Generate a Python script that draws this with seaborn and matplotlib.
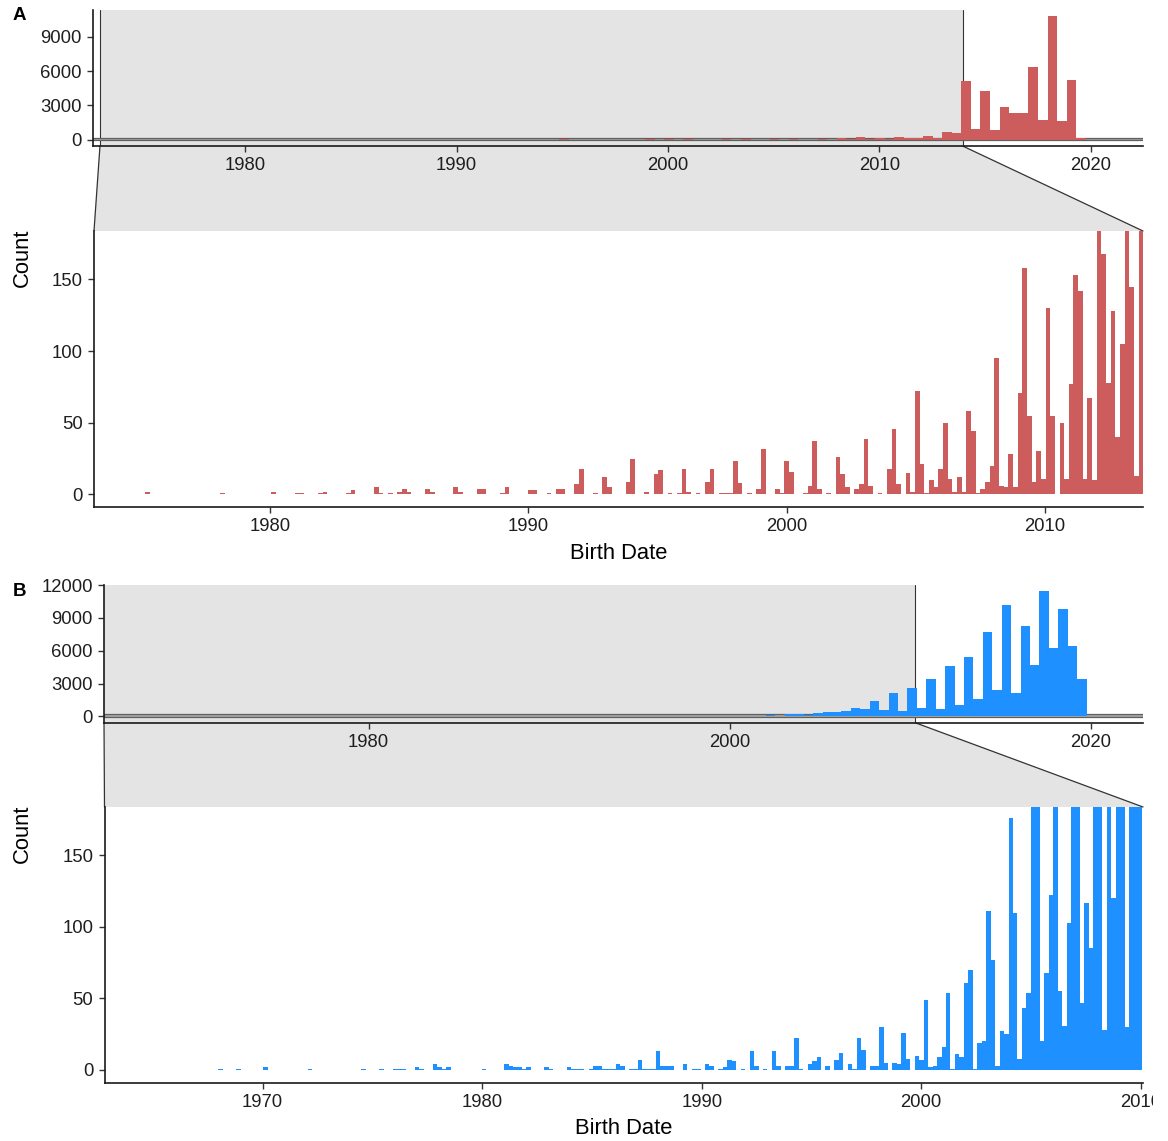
import numpy as np
import pandas as pd
import seaborn as sns
import matplotlib.pyplot as plt
from matplotlib.patches import Polygon
from matplotlib.lines import Line2D
from matplotlib.transforms import Bbox, TransformedBbox

# ---- data: histogram counts ----
# panel A overview: 99 bins, first bin starts 1974.91, width 0.453 yr
a_over_start, a_over_width = 1974.91, 0.453
a_over_counts = [
    2, 0, 0, 0, 0, 0, 1, 0, 0, 0,
    0, 2, 0, 2, 0, 1, 2, 1, 3, 0,
    6, 4, 6, 0, 6, 0, 5, 2, 4, 4,
    1, 5, 0, 6, 1, 4, 4, 25, 1, 12,
    5, 9, 25, 2, 31, 2, 20, 1, 27, 2,
    24, 8, 5, 32, 5, 39, 1, 43, 4, 27,
    23, 46, 7, 64, 7, 17, 93, 17, 68, 13,
    14, 102, 14, 121, 38, 230, 64, 160, 105, 241,
    160, 150, 317, 200, 720, 577, 5107, 952, 4240, 894,
    2827, 2308, 2308, 6318, 1760, 10790, 1644, 5193, 144,
]
# panel A zoom: 215 bins from 1975.0, width 0.1805 yr
a_zoom_start, a_zoom_width = 1975.0, 0.1805
a_zoom_counts = [
    0, 2, 0, 0, 0, 0, 0, 0, 0, 0,
    0, 0, 0, 0, 0, 0, 0, 1, 0, 0,
    0, 0, 0, 0, 0, 0, 0, 0, 2, 0,
    0, 0, 0, 1, 1, 0, 0, 0, 1, 2,
    0, 0, 0, 0, 1, 3, 0, 0, 0, 0,
    5, 1, 0, 1, 0, 2, 4, 2, 0, 0,
    0, 4, 2, 0, 0, 0, 0, 5, 2, 0,
    0, 0, 4, 4, 0, 0, 0, 1, 5, 0,
    0, 0, 0, 3, 3, 0, 0, 1, 0, 4,
    4, 0, 0, 7, 18, 0, 0, 1, 0, 12,
    5, 0, 0, 0, 9, 25, 0, 0, 2, 0,
    14, 17, 0, 1, 0, 1, 18, 2, 0, 1,
    0, 9, 18, 0, 1, 1, 1, 23, 8, 0,
    1, 0, 4, 32, 0, 0, 4, 1, 23, 16,
    0, 0, 1, 6, 37, 4, 0, 1, 0, 26,
    14, 5, 0, 4, 7, 39, 6, 0, 1, 0,
    18, 46, 7, 0, 15, 2, 72, 21, 1, 10,
    5, 18, 50, 11, 2, 12, 2, 58, 44, 1,
    4, 9, 20, 95, 6, 5, 28, 5, 71, 158,
    55, 9, 30, 11, 130, 55, 0, 50, 11, 77,
    153, 142, 11, 67, 10, 260, 168, 78, 128, 40,
    105, 300, 145, 13, 420,
]
# panel B overview: 99 bins from 1968.07, width 0.5222 yr
b_over_start, b_over_width = 1968.07, 0.5222
b_over_counts = [
    1, 1, 0, 2, 0, 0, 0, 1, 0, 0,
    0, 0, 1, 0, 1, 2, 1, 3, 4, 5,
    0, 0, 0, 1, 4, 5, 5, 0, 3, 0,
    3, 2, 4, 5, 5, 4, 8, 3, 19, 3,
    4, 2, 7, 1, 15, 1, 16, 1, 16, 6,
    23, 10, 9, 10, 16, 23, 17, 33, 10, 30,
    18, 58, 12, 71, 20, 132, 39, 191, 228, 118,
    357, 450, 420, 524, 771, 710, 1419, 586, 2098, 524,
    2591, 802, 3394, 710, 4628, 1018, 5399, 1604, 7713, 2375,
    10211, 2129, 8268, 4658, 11415, 6293, 9841, 6386, 3394,
]
# panel B zoom: 207 bins from 1967.99, width 0.2033 yr
b_zoom_start, b_zoom_width = 1967.99, 0.2033
b_zoom_counts = [
    1, 0, 0, 0, 1, 0, 0, 0, 0, 0,
    2, 0, 0, 0, 0, 0, 0, 0, 0, 0,
    1, 0, 0, 0, 0, 0, 0, 0, 0, 0,
    0, 0, 1, 0, 0, 0, 1, 0, 0, 1,
    1, 1, 0, 0, 2, 1, 0, 0, 4, 2,
    1, 2, 0, 0, 0, 0, 0, 0, 0, 1,
    0, 0, 0, 0, 4, 3, 2, 2, 1, 2,
    0, 0, 0, 2, 1, 0, 0, 0, 2, 1,
    1, 1, 0, 1, 3, 3, 1, 1, 1, 4,
    3, 0, 1, 1, 7, 1, 1, 1, 13, 3,
    3, 3, 0, 0, 4, 0, 1, 1, 0, 4,
    3, 0, 1, 2, 7, 6, 0, 1, 0, 13,
    3, 0, 1, 0, 13, 3, 0, 3, 3, 22,
    1, 0, 4, 6, 9, 0, 3, 0, 7, 12,
    0, 4, 1, 22, 14, 0, 3, 3, 30, 5,
    0, 5, 4, 26, 8, 0, 10, 7, 49, 2,
    3, 9, 16, 54, 1, 11, 9, 61, 70, 1,
    19, 20, 111, 77, 3, 27, 25, 176, 110, 8,
    43, 54, 260, 300, 20, 68, 122, 420, 55, 31,
    103, 520, 480, 47, 117, 85, 680, 650, 28, 900,
    120, 980, 1050, 30, 1200, 1250, 1300,
]

a_over_yticks = [0, 3000, 6000, 9000]
b_over_yticks = [0, 3000, 6000, 9000, 12000]
zoom_yticks = [0, 50, 100, 150]
a_over_xticks = [1980, 1990, 2000, 2010, 2020]
a_zoom_xticks = [1980, 1990, 2000, 2010]
b_over_xticks = [1980, 2000, 2020]
b_zoom_xticks = [1970, 1980, 1990, 2000, 2010]

RED = "#CD5C5C"
BLUE = "#1E90FF"
ZOOM_FILL = "#E4E4E4"
EDGE = "#333333"
TXT = "#1E1E1E"

sns.set_theme(style="ticks")
plt.rcParams["font.family"] = ["Liberation Sans", "DejaVu Sans"]

W, H = 1168, 1141
fig = plt.figure(figsize=(W / 100, H / 100), dpi=100)


def px_axes(left, top, right, bottom):
    return fig.add_axes([left / W, 1 - bottom / H, (right - left) / W, (bottom - top) / H])


def hist(ax, start, width, counts, color):
    edges = start + width * np.arange(len(counts) + 1)
    df = pd.DataFrame({"year": (edges[:-1] + edges[1:]) / 2,
                       "n": np.asarray(counts, dtype=float)})
    sns.histplot(data=df, x="year", weights="n", bins=edges.tolist(), color=color,
                 alpha=1, linewidth=0, ax=ax, zorder=3)


def style(ax, xticks, yticks):
    sns.despine(ax=ax)
    ax.grid(False)
    ax.set_facecolor("none")
    ax.set_xticks(xticks)
    ax.set_yticks(yticks)
    ax.set_xticklabels([str(t) for t in xticks])
    ax.set_yticklabels([str(t) for t in yticks])
    ax.tick_params(length=4.3, width=1.0, color="#333333", labelcolor=TXT,
                   labelsize=13.3, pad=3.8)
    for s in ("left", "bottom"):
        ax.spines[s].set_linewidth(1.2)
        ax.spines[s].set_color("#1A1A1A")
    ax.set_ylabel("")
    ax.set_xlabel("")


def panel(letter, over_box, zoom_box, over_data, zoom_data, color,
          over_xlim, over_ylim, band, zoom_xlim, zoom_ylim,
          over_xt, over_yt, zoom_xt, count_y):
    ov = px_axes(*over_box)
    zm = px_axes(*zoom_box)

    # overview with the zoomed area shaded
    ov.axvspan(band[0], band[1], color=ZOOM_FILL, lw=0, zorder=1)
    for bx in band:
        ov.axvline(bx, color=EDGE, lw=0.8, zorder=2)
    ov.axhspan(zoom_ylim[0], zoom_ylim[1], facecolor="#A8A8A8", edgecolor="#606060",
               lw=0.9, zorder=2)
    hist(ov, *over_data, color)
    ov.set_xlim(*over_xlim)
    ov.set_ylim(*over_ylim)
    style(ov, over_xt, over_yt)

    # zoomed panel
    hist(zm, *zoom_data, color)
    zm.set_xlim(*zoom_xlim)
    zm.set_ylim(*zoom_ylim)
    style(zm, zoom_xt, zoom_yticks)
    zm.set_xlabel("Birth Date", fontsize=15.8, color="black", labelpad=5.5)

    # connector between the two panels
    inv = fig.transFigure.inverted()
    xt = ov.get_xaxis_transform()
    x0 = max(band[0], over_xlim[0])
    tl = inv.transform(xt.transform((x0, 0)))
    tr = inv.transform(xt.transform((band[1], 0)))
    bl = inv.transform(zm.transAxes.transform((0, 1)))
    br = inv.transform(zm.transAxes.transform((1, 1)))
    fig.add_artist(Polygon([tl, tr, br, bl], closed=True, transform=fig.transFigure,
                           facecolor=ZOOM_FILL, edgecolor="none", zorder=-1))
    for a, b in ((tl, bl), (tr, br)):
        fig.add_artist(Line2D([a[0], b[0]], [a[1], b[1]], transform=fig.transFigure,
                              color=EDGE, lw=0.9, zorder=-0.5))

    fig.text(22 / W, 1 - count_y / H, "Count", rotation=90, ha="center", va="center",
             fontsize=15.8, color="black")
    fig.text(19 / W, 1 - (over_box[1] + 6) / H, letter, ha="center", va="center",
             fontsize=13.5, fontweight="bold", color="black")
    return ov, zm


ovA, zmA = panel("A", (93, 10, 1143, 146), (94, 231, 1143, 507),
                 (a_over_start, a_over_width, a_over_counts),
                 (a_zoom_start, a_zoom_width, a_zoom_counts), RED,
                 (1972.81, 2022.46), (-540, 11330), (1973.14, 2013.93),
                 (1973.19, 2013.79), (-8.75, 183.75),
                 a_over_xticks, a_over_yticks, a_zoom_xticks, 258)

ovB, zmB = panel("B", (104, 585, 1143, 722.7), (104.5, 807, 1143, 1082.5),
                 (b_over_start, b_over_width, b_over_counts),
                 (b_zoom_start, b_zoom_width, b_zoom_counts), BLUE,
                 (1965.35, 2022.89), (-571, 11986), (1962.8, 2010.27),
                 (1962.8, 2010.1), (-8.75, 183.75),
                 b_over_xticks, b_over_yticks, b_zoom_xticks, 834)

# the original picture cuts the last tick label at its right edge
clip = TransformedBbox(Bbox([[0, 0], [1153 / W, 1]]), fig.transFigure)
for lab in zmB.get_xticklabels():
    lab.set_clip_box(clip)
    lab.set_clip_on(True)

fig.savefig("out.png", dpi=100, facecolor="white")
